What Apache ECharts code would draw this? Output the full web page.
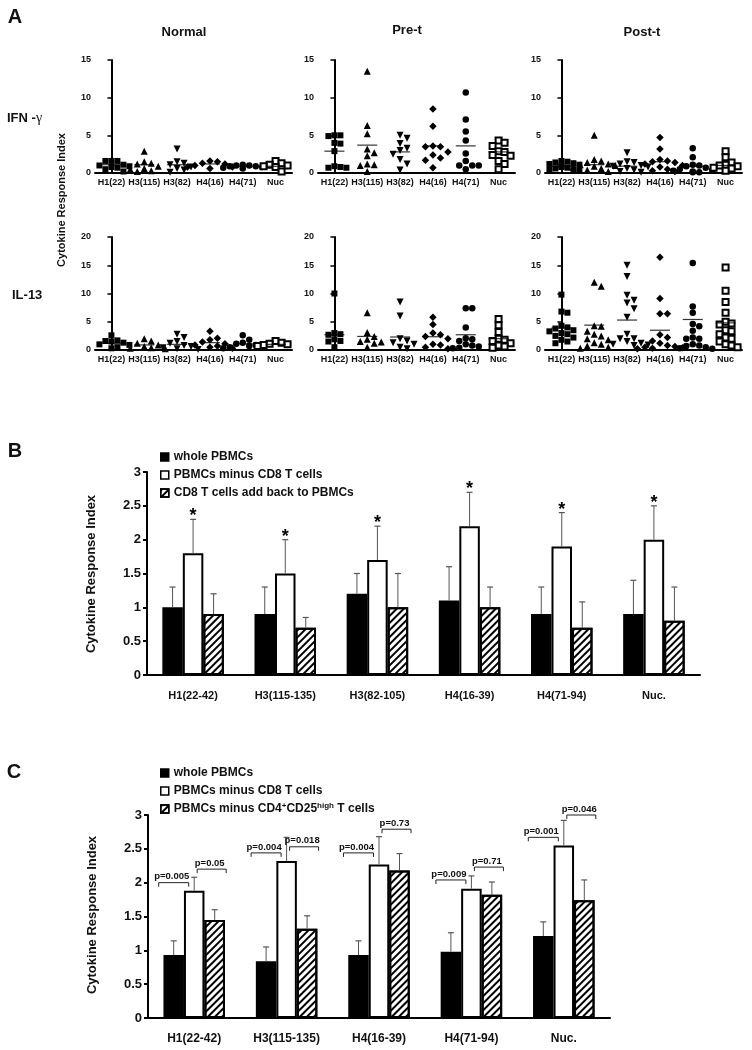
<!DOCTYPE html>
<html><head><meta charset="utf-8">
<script src="https://cdn.jsdelivr.net/npm/echarts@6/dist/echarts.min.js"></script>
<style>html,body{margin:0;padding:0;background:#fff}#c{width:752px;height:1050px}</style>
</head><body><div id="c"></div><script>
// ---------- Panel A data ----------
const groupsA = ['H1(22)','H3(115)','H3(82)','H4(16)','H4(71)','Nuc'];
const columnsA = ['Normal','Pre-t','Post-t'];
const rowsA = ['IFN -γ','IL-13'];

const ifnNormal = [
  [1.6,1.6,1.6,1.1,1.0,0.9,0.8,0.7,0.5,0.2],
  [2.9,1.5,1.3,1.2,0.9,0.6,0.5,0.3,0.2],
  [3.2,1.5,1.3,1.1,0.8,0.6,0.4,0.1],
  [1.6,1.5,1.3,1.2,1.0,0.8,0.8,0.6],
  [1.1,1.0,1.0,0.9,0.9,0.8,0.7,0.6],
  [1.6,1.3,1.1,1.0,0.9,0.8,0.6,0.2]
];
const ifnNormalMean = [1.1,1.1,1.1,1.2,0.9,0.9];

const ifnPre = [
  [5.0,5.0,4.9,4.0,3.9,2.9,0.9,0.8,0.7,0.7],
  [13.5,6.3,5.2,3.2,2.7,2.3,1.2,1.1,1.0,0.2],
  [5.0,4.6,3.9,3.3,3.0,2.5,1.8,1.2,0.4],
  [8.5,6.2,3.6,3.5,3.5,2.8,2.4,2.0,1.7,0.7],
  [10.7,7.1,5.5,4.3,2.6,1.6,1.0,1.0,1.0,0.5],
  [4.3,4.0,3.6,2.9,2.8,2.4,2.3,1.6,1.2,0.5]
];
const ifnPreMean = [2.9,3.7,2.8,3.6,3.6,2.8];

const ifnPost = [
  [1.6,1.5,1.4,1.3,1.2,1.1,1.0,0.9,0.8,0.7,0.6,0.5,0.4,0.3],
  [5.0,1.8,1.6,1.4,1.2,1.1,1.0,0.9,0.8,0.6,0.4,0.2],
  [2.7,1.5,1.4,1.2,1.0,0.9,0.8,0.6,0.4,0.2,0.1],
  [4.7,3.2,1.8,1.6,1.5,1.4,1.2,1.0,0.8,0.5,0.3,0.2],
  [3.3,2.1,1.1,1.0,0.9,0.7,0.5,0.4,0.3,0.2,0.1,0.1],
  [2.9,2.1,1.4,1.1,1.0,0.9,0.7,0.6,0.5,0.3]
];
const ifnPostMean = [0.9,1.1,0.9,1.5,0.9,1.0];

const il13Normal = [
  [2.6,1.7,1.6,1.5,1.3,1.0,0.9,0.7,0.5,0.3],
  [2.0,1.6,1.2,0.9,0.6,0.4,0.3,0.2],
  [2.8,2.2,1.5,1.2,0.8,0.6,0.4,0.2,0.1],
  [3.3,2.1,1.8,1.4,1.1,0.9,0.7,0.5,0.3],
  [2.6,1.8,1.3,1.1,0.9,0.7,0.5,0.4,0.3],
  [1.6,1.3,1.1,1.0,0.9,0.8,0.7]
];
const il13NormalMean = [1.2,0.9,1.0,1.3,1.1,1.0];

const il13Pre = [
  [10.0,3.0,2.8,2.7,1.9,1.6,1.5,0.5],
  [6.6,3.1,2.4,1.9,1.5,1.4,1.2,0.5],
  [8.5,6.0,2.0,1.6,1.3,1.0,0.5,0.2],
  [5.8,4.5,3.0,2.7,2.4,2.0,1.0,0.9,0.5,0.2],
  [7.4,7.4,4.0,2.1,1.9,1.6,1.0,0.8,0.6,0.4,0.3],
  [5.5,4.4,3.2,2.0,1.8,1.6,1.2,0.8,0.6,0.4]
];
const il13PreMean = [2.7,2.4,2.3,2.35,2.7,2.0];

const il13Post = [
  [9.8,6.8,6.6,4.3,4.0,3.8,3.5,3.3,3.0,2.8,2.5,2.2,1.8,1.5,1.2],
  [12.0,11.3,4.3,4.2,3.3,2.8,2.5,2.0,1.8,1.3,1.0,0.7,0.5,0.3],
  [15.0,13.0,9.7,8.8,8.3,7.3,5.8,2.8,2.0,2.0,1.5,1.2,1.0,0.9,0.8],
  [16.4,9.1,6.4,6.4,2.7,2.2,1.6,1.2,0.8,0.6,0.5,0.4,0.3,0.2],
  [15.4,7.7,6.6,4.6,4.2,3.4,2.2,2.0,2.0,1.0,0.8,0.7,0.5,0.3,0.2],
  [14.6,10.5,8.5,6.6,5.0,4.7,4.5,3.5,3.3,2.8,2.2,2.0,1.5,1.0,0.8,0.5]
];
const il13PostMean = [3.9,4.4,5.3,3.5,5.4,4.8];

const yTicksA = { ifn: [0, 15, 5], il13: [0, 20, 5] }; // min, max, step

// ---------- Panel B data ----------
const catsB = ['H1(22-42)','H3(115-135)','H3(82-105)','H4(16-39)','H4(71-94)','Nuc.'];
const namesB = ['whole PBMCs','PBMCs minus CD8 T cells','CD8 T cells add back to PBMCs'];
const wholeB = [1.0,0.9,1.2,1.1,0.9,0.9];
const wholeErrB = [0.3,0.4,0.3,0.5,0.4,0.5];
const minusCD8B = [1.8,1.5,1.7,2.2,1.9,2.0];
const minusCD8ErrB = [0.5,0.5,0.5,0.5,0.5,0.5];
const addBackB = [0.9,0.7,1.0,1.0,0.7,0.8];
const addBackErrB = [0.3,0.15,0.5,0.3,0.38,0.5];
const sigB = ['*','*','*','*','*','*'];

// ---------- Panel C data ----------
const catsC = ['H1(22-42)','H3(115-135)','H4(16-39)','H4(71-94)','Nuc.'];
const namesC = ['whole PBMCs','PBMCs minus CD8 T cells','PBMCs minus CD4+CD25high T cells'];
const wholeC = [0.93,0.84,0.93,0.98,1.21];
const wholeErrC = [0.21,0.21,0.21,0.28,0.21];
const minusCD8C = [1.88,2.32,2.27,1.91,2.55];
const minusCD8ErrC = [0.20,0.35,0.41,0.19,0.37];
const minusTregC = [1.45,1.32,2.18,1.82,1.74];
const minusTregErrC = [0.15,0.19,0.25,0.19,0.30];
const pLeftC = ['p=0.005','p=0.004','p=0.004','p=0.009','p=0.001'];
const pLeftLevelC = [2.0,2.44,2.44,2.04,2.67];
const pRightC = ['p=0.05','p=0.018','p=0.73','p=0.71','p=0.046'];
const pRightLevelC = [2.2,2.53,2.79,2.23,3.0];

// ---------- build ----------
const FONT = '"Liberation Sans", Arial, Helvetica, sans-serif';
const TXT = '#111';
const grids = [], xAxes = [], yAxes = [], series = [], graphics = [];

const colLeft = [95, 318, 545], rowTop = [60, 237], gW = 197, gH = 113;
const panelData = [
  [[ifnNormal, ifnNormalMean], [ifnPre, ifnPreMean], [ifnPost, ifnPostMean]],
  [[il13Normal, il13NormalMean], [il13Pre, il13PreMean], [il13Post, il13PostMean]]
];
const symbols = [
  {symbol:'rect', size:6, rot:0},
  {symbol:'triangle', size:7, rot:0},
  {symbol:'triangle', size:7, rot:180},
  {symbol:'diamond', size:7.5, rot:0},
  {symbol:'circle', size:6.5, rot:0},
  {symbol:'emptyRect', size:6, rot:0}
];

function swarm(values, pxPerUnit, bandPx, size) {
  const placed = [], out = [];
  const order = values.map((v, i) => i).sort((a, b) => values[b] - values[a]);
  const cands = [0];
  for (let k = 1; k <= 3; k++) cands.push(k * size, -k * size);
  order.forEach(i => {
    const v = values[i];
    let best = 0, bestHits = 1e9;
    for (const dx of cands) {
      let hits = 0;
      placed.forEach(p => {
        if (Math.abs(p.dx - dx) < size * 0.95 && Math.abs(p.v - v) * pxPerUnit < size * 0.95) hits++;
      });
      if (hits < bestHits) { bestHits = hits; best = dx; }
      if (hits === 0) break;
    }
    placed.push({dx: best, v});
    out.push([best / bandPx, v]);
  });
  return out;
}

for (let r = 0; r < 2; r++) {
  const yt = r === 0 ? yTicksA.ifn : yTicksA.il13;
  for (let c = 0; c < 3; c++) {
    const k = r * 3 + c;
    grids.push({left: colLeft[c], top: rowTop[r], width: gW, height: gH});
    xAxes.push({type:'category', gridIndex:k, data:groupsA,
      axisLine:{lineStyle:{color:'#000', width:2}},
      axisTick:{alignWithLabel:true, length:4, lineStyle:{color:'#000', width:1.5}},
      axisLabel:{interval:0, fontSize:9, fontWeight:'bold', color:TXT, fontFamily:FONT, margin:5}});
    xAxes.push({type:'value', gridIndex:k, min:-0.5, max:5.5, show:false});
    yAxes.push({type:'value', gridIndex:k, min:yt[0], max:yt[1], interval:yt[2],
      axisLine:{show:true, lineStyle:{color:'#000', width:2}},
      axisTick:{show:true, length:4, lineStyle:{color:'#000', width:1.5}},
      splitLine:{show:false},
      axisLabel:{fontSize:9, fontWeight:'bold', color:TXT, fontFamily:FONT, margin:4}});
    const [vals, means] = panelData[r][c];
    const pxPerUnit = gH / (yt[1] - yt[0]);
    const bandPx = gW / groupsA.length;
    vals.forEach((g, gi) => {
      const s = symbols[gi];
      const pts = swarm(g, pxPerUnit, bandPx, s.size).map(p => [gi + p[0], p[1]]);
      series.push({type:'scatter', xAxisIndex:2*k+1, yAxisIndex:k, symbol:s.symbol,
        symbolSize:s.size, symbolRotate:s.rot, silent:true,
        itemStyle:{color:'#000', borderColor:'#000', borderWidth: s.symbol === 'emptyRect' ? 1.2 : 0, opacity:1},
        data: pts, z:3});
    });
    series.push({type:'scatter', xAxisIndex:2*k+1, yAxisIndex:k, symbol:'rect', symbolSize:[20,1.2],
      itemStyle:{color:'#000'}, silent:true, z:4,
      data: means.map((m, gi) => [gi, m])});
  }
}

// ---- bar panels helper ----
const hatchDecal = {symbol:'rect', symbolSize:1, dashArrayX:[1,0], dashArrayY:[1.3,2.7], rotation:-Math.PI/4, color:'#000'};
const BW = 20.5;
function errRender(shift) {
  return function (params, api) {
    const i = api.value(0), v = api.value(1), e = api.value(2);
    const base = api.coord([i, v]), top = api.coord([i, v + e]);
    const x = base[0] + shift;
    return {type:'group', children:[
      {type:'line', shape:{x1:x, y1:base[1], x2:x, y2:top[1]}, style:{stroke:'#555', lineWidth:1}},
      {type:'line', shape:{x1:x-3, y1:top[1], x2:x+3, y2:top[1]}, style:{stroke:'#555', lineWidth:1.2}}
    ]};
  };
}

function barPanel(gi, box, cats, names, vals, errs, labelSize) {
  grids.push(box);
  xAxes.push({type:'category', gridIndex:gi, data:cats,
    axisLine:{lineStyle:{color:'#000', width:2}},
    axisTick:{length:5, lineStyle:{color:'#000', width:2}},
    axisLabel:{interval:0, fontSize:labelSize, fontWeight:'bold', color:TXT, fontFamily:FONT, margin:15}});
  yAxes.push({type:'value', gridIndex:gi, min:0, max:3, interval:0.5,
    axisLine:{show:true, lineStyle:{color:'#000', width:2}},
    axisTick:{show:true, length:4, lineStyle:{color:'#000', width:2}},
    splitLine:{show:false},
    axisLabel:{fontSize:13, fontWeight:'bold', color:TXT, fontFamily:FONT, margin:6}});
  const xi = xAxes.length - 1, yi = yAxes.length - 1;
  const styles = [
    {color:'#000', borderColor:'#000', borderWidth:1.5},
    {color:'#fff', borderColor:'#000', borderWidth:2},
    {color:'#fff', borderColor:'#000', borderWidth:2, decal:hatchDecal}
  ];
  names.forEach((n, si) => {
    series.push({type:'bar', name:n, xAxisIndex:xi, yAxisIndex:yi, barWidth:BW, barGap:'0%',
      itemStyle:styles[si], data:vals[si], silent:true, z:2});
  });
  names.forEach((n, si) => {
    series.push({type:'custom', xAxisIndex:xi, yAxisIndex:yi, silent:true, z:5,
      renderItem: errRender((si - 1) * BW),
      data: vals[si].map((v, i) => [i, v, errs[si][i]])});
  });
  return [xi, yi];
}

const [bx, by] = barPanel(6, {left:147, top:472, width:553, height:203}, catsB, namesB,
  [wholeB, minusCD8B, addBackB], [wholeErrB, minusCD8ErrB, addBackErrB], 11);
// asterisks
series.push({type:'custom', xAxisIndex:bx, yAxisIndex:by, silent:true, z:6,
  renderItem: function (params, api) {
    const p = api.coord([api.value(0), api.value(1) + api.value(2)]);
    return {type:'text', x:p[0], y:p[1] - 12, style:{text:sigB[params.dataIndex], align:'center', verticalAlign:'top',
      font:'bold 18px ' + FONT, fill:'#000'}};
  },
  data: minusCD8B.map((v, i) => [i, v, minusCD8ErrB[i]])});

const [cx, cy] = barPanel(7, {left:148, top:815, width:462, height:203}, catsC, namesC,
  [wholeC, minusCD8C, minusTregC], [wholeErrC, minusCD8ErrC, minusTregErrC], 12);
// p-value brackets
function bracketRender(labels, shiftFn, halfW) {
  return function (params, api) {
    const p = api.coord([api.value(0), api.value(1)]);
    const cxp = p[0] + shiftFn(), y = p[1];
    return {type:'group', children:[
      {type:'polyline', shape:{points:[[cxp-halfW, y+4],[cxp-halfW, y],[cxp+halfW, y],[cxp+halfW, y+4]]},
        style:{stroke:'#222', lineWidth:1, fill:null}},
      {type:'text', x:cxp - 2, y:y - 1, style:{text:labels[params.dataIndex], align:'center', verticalAlign:'bottom',
        font:'bold 9.5px ' + FONT, fill:'#111'}}
    ]};
  };
}
series.push({type:'custom', xAxisIndex:cx, yAxisIndex:cy, silent:true, z:6,
  renderItem: bracketRender(pLeftC, () => -BW, 15),
  data: pLeftLevelC.map((v, i) => [i, v])});
series.push({type:'custom', xAxisIndex:cx, yAxisIndex:cy, silent:true, z:6,
  renderItem: bracketRender(pRightC, () => BW - 3, 14.5),
  data: pRightLevelC.map((v, i) => [i, v])});

// ---------- texts ----------
function txt(t, x, y, size, opts) {
  graphics.push(Object.assign({type:'text', x, y, silent:true,
    style:{text:t, align:'center', verticalAlign:'middle', font:'bold ' + size + 'px ' + FONT, fill:TXT}}, opts || {}));
}
txt('A', 15, 17, 20);
txt('B', 15, 451, 20);
txt('C', 14, 772, 20);
txt(columnsA[0], 184, 32, 13);
txt(columnsA[1], 407, 30, 13);
txt(columnsA[2], 642, 32, 13);
graphics.push({type:'text', x:7, y:118, silent:true,
  style:{text:'{a|IFN -}{g|γ}', align:'left', verticalAlign:'middle',
    rich:{a:{fontSize:13, fontWeight:'bold', fontFamily:FONT, fill:TXT}, g:{fontSize:14, fontFamily:'"Liberation Serif", serif', fill:TXT}}}});
graphics.push({type:'text', x:12, y:295, silent:true,
  style:{text:rowsA[1], align:'left', verticalAlign:'middle', font:'bold 13px ' + FONT, fill:TXT}});
txt('Cytokine Response Index', 62, 200, 11, {rotation:Math.PI/2});
txt('Cytokine Response Index', 91, 574, 13, {rotation:Math.PI/2});
txt('Cytokine Response Index', 92, 915, 13, {rotation:Math.PI/2});

const legendBase = {orient:'vertical', icon:'rect', itemWidth:8, itemHeight:8, itemGap:4, selectedMode:false,
  itemStyle:{borderColor:'#000', borderWidth:1.5},
  textStyle:{fontSize:12, fontWeight:'bold', color:TXT, fontFamily:FONT, lineHeight:14}};
const legends = [
  Object.assign({}, legendBase, {left:155, top:445, data:namesB}),
  Object.assign({}, legendBase, {left:155, top:761, data:namesC,
    formatter: function (n) {
      if (n.indexOf('CD4+') >= 0) return '{t|PBMCs minus CD4}{s|+}{t|CD25}{s|high}{t| T cells}';
      return n;
    },
    textStyle:Object.assign({}, legendBase.textStyle, {rich:{
      t:{fontSize:12, fontWeight:'bold', fontFamily:FONT, color:TXT, lineHeight:14},
      s:{fontSize:8, fontWeight:'bold', fontFamily:FONT, color:TXT, verticalAlign:'top', lineHeight:14, padding:[0,0,5,0]}}})})
];

const chart = echarts.init(document.getElementById('c'), null, {renderer:'canvas'});
chart.setOption({
  backgroundColor:'#fff', animation:false,
  grid:grids, xAxis:xAxes, yAxis:yAxes, series:series, legend:legends, graphic:graphics
});
</script></body></html>
